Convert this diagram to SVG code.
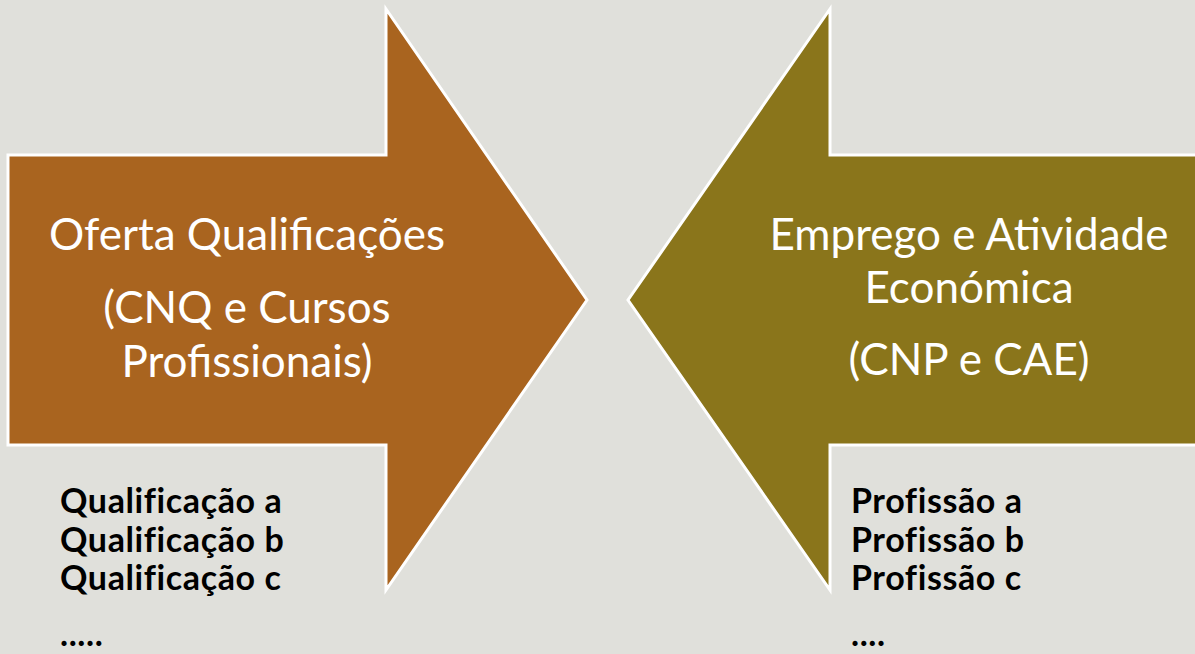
<svg xmlns="http://www.w3.org/2000/svg" width="1195" height="654" viewBox="0 0 1195 654">
<style>
.arrow{stroke:#FFFFFF;stroke-width:3;stroke-linejoin:miter}
.big{font-family:Lato,"Liberation Sans",sans-serif;font-size:44px;fill:#FFFFFF;text-anchor:middle}
.list{font-family:Lato,"Liberation Sans",sans-serif;font-size:34px;letter-spacing:0.6px;font-weight:bold;fill:#000000}
</style>
<rect x="0" y="0" width="1195" height="654" fill="#E0E0DB"/>
<g id="oferta">
<polygon class="arrow" fill="#A9641F" points="8,155 386,155 386,9 587,300 386,590 386,445 8,445"/>
<text class="big" x="247" y="250">Oferta Qualificações</text>
<text class="big" x="247" y="323">(CNQ e Cursos</text>
<text class="big" x="247" y="377">Profissionais)</text>
</g>
<g id="emprego">
<polygon class="arrow" fill="#8A751B" points="1200,155 830,155 830,9 628,300 830,590 830,445 1200,445"/>
<text class="big" x="969" y="250">Emprego e Atividade</text>
<text class="big" x="969" y="303">Económica</text>
<text class="big" x="969" y="375">(CNP e CAE)</text>
</g>
<g id="qualificacoes">
<text class="list" x="60" y="513">Qualificação a</text>
<text class="list" x="60" y="552">Qualificação b</text>
<text class="list" x="60" y="590">Qualificação c</text>
<text class="list" x="60" y="646">.....</text>
</g>
<g id="profissoes">
<text class="list" x="851" y="513">Profissão a</text>
<text class="list" x="851" y="552">Profissão b</text>
<text class="list" x="851" y="590">Profissão c</text>
<text class="list" x="851" y="646">....</text>
</g>
<g id="connectors"></g>
</svg>
